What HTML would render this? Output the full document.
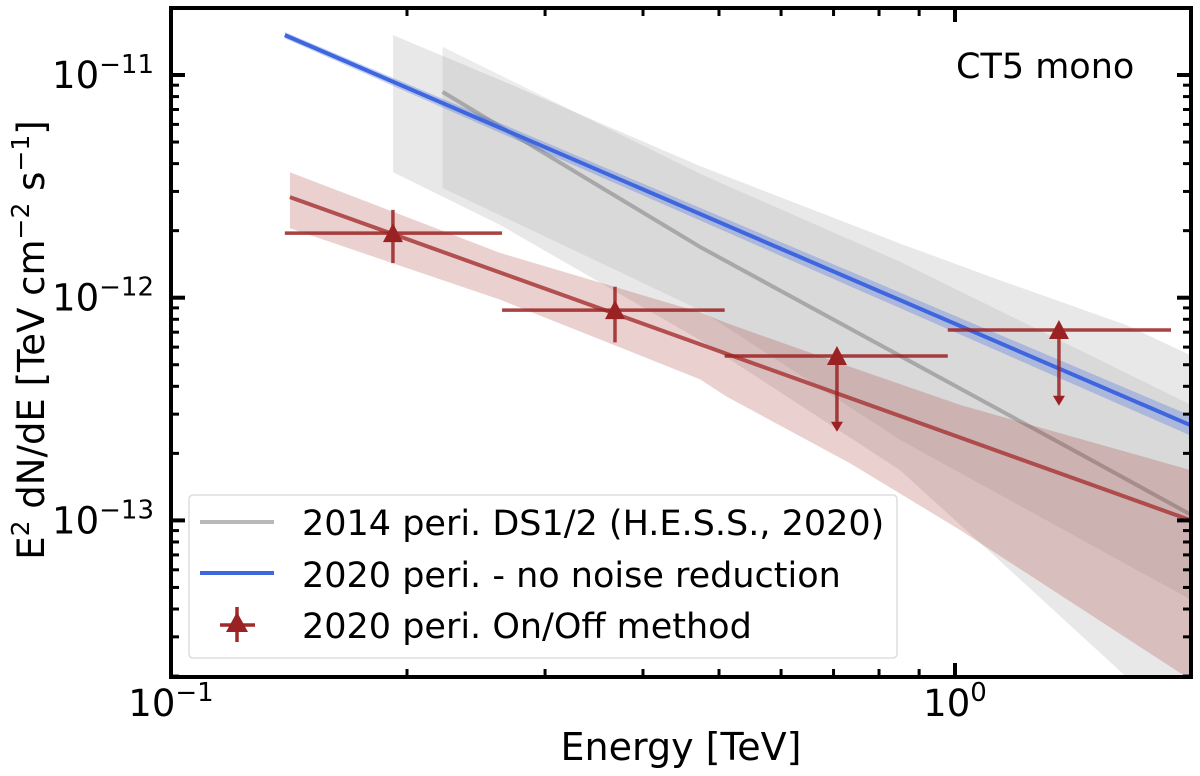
<!DOCTYPE html>
<html><head><meta charset="utf-8">
<style>
html,body{margin:0;padding:0;background:#fff;}
svg{display:block;font-family:"DejaVu Sans","Liberation Sans",sans-serif;}
</style></head>
<body>
<svg id="chart" width="1200" height="776" viewBox="0 0 1200 776" xmlns="http://www.w3.org/2000/svg">
  <defs><clipPath id="clip"><rect x="171" y="8" width="1020" height="669"/></clipPath></defs>
  <g id="plot" clip-path="url(#clip)"></g>
  <g id="axes"></g>
  <text x="956" y="78" font-size="35" fill="#000">CT5 mono</text>
  <text x="681" y="760" font-size="38" text-anchor="middle" fill="#000">Energy [TeV]</text>
  <text transform="translate(44,340) rotate(-90)" font-size="37" text-anchor="middle" fill="#000">E<tspan font-size="25" dy="-15">2</tspan><tspan dy="15"> dN/dE [TeV cm</tspan><tspan font-size="25" dy="-15">−2</tspan><tspan dy="15"> s</tspan><tspan font-size="25" dy="-15">−1</tspan><tspan dy="15">]</tspan></text>
  <g id="legend">
    <rect x="189" y="495" width="708" height="163" rx="4" fill="#fff" fill-opacity="0.85" stroke="#ddd" stroke-width="1.5"/>
    <line x1="200" y1="522" x2="274" y2="522" stroke="#b8b8b8" stroke-width="4"/>
    <text x="302" y="535" font-size="35">2014 peri. DS1/2 (H.E.S.S., 2020)</text>
    <line x1="200" y1="573" x2="274" y2="573" stroke="#3e66df" stroke-width="4"/>
    <text x="302" y="587" font-size="35">2020 peri. - no noise reduction</text>
    <g stroke="#a02a2a" stroke-width="3.5">
      <line x1="220" y1="625" x2="255" y2="625"/><line x1="237" y1="607" x2="237" y2="642"/>
    </g>
    <polygon points="237,612 248,632 226,632" fill="#9a2222"/>
    <text x="302" y="638" font-size="35">2020 peri. On/Off method</text>
  </g>
</svg>
<script>
// ---- data ----
const grayLightE = [0.192, 0.263, 0.473, 0.851, 1.14, 1.66, 2.0];
const grayLightUp = [1.51e-11, 9.5e-12, 3.9e-12, 1.75e-12, 1.2e-12, 7.5e-13, 5.5e-13];
const grayLightLo = [3.66e-12, 2.12e-12, 6.45e-13, 1.68e-13, 6.6e-14, 1.96e-14, 1.2e-14];
const grayDarkE = [0.222, 0.473, 0.851, 2.0];
const grayDarkUp = [1.34e-11, 3.6e-12, 1.45e-12, 3.3e-13];
const grayDarkLo = [3.11e-12, 8.8e-13, 2.3e-13, 4.4e-14];
const grayLineE = [0.222, 0.473, 1.44, 2.0];
const grayLineF = [8.4e-12, 1.69e-12, 2.0e-13, 1.06e-13];
const redBandE = [0.1418, 0.2628, 0.473, 0.511, 0.7355, 1.015, 2.0];
const redBandUp = [3.66e-12, 1.59e-12, 8.6e-13, 7.7e-13, 4.89e-13, 3.3e-13, 1.68e-13];
const redBandLo = [2.05e-12, 9.8e-13, 4.3e-13, 3.6e-13, 1.8e-13, 9.06e-14, 1.92e-14];
const redLineE = [0.1418, 2.0];
const redLineF = [2.83e-12, 1.0e-13];
const blueLineE = [0.1397, 2.0];
const blueLineF = [1.51e-11, 2.67e-13];
const blueBandUp = [1.56e-11, 2.95e-13];
const blueBandLo = [1.46e-11, 2.4e-13];
const ptE = [0.1919, 0.3684, 0.707, 1.357];
const ptF = [1.95e-12, 8.8e-13, 5.47e-13, 7.16e-13];
const ptElo = [0.1397, 0.2644, 0.5084, 0.979];
const ptEhi = [0.2644, 0.5084, 0.979, 1.886];
const ptFlo = [1.43e-12, 6.3e-13, null, null];
const ptFhi = [2.48e-12, 1.12e-12, null, null];
const ptUL = [false, false, true, true];
const xTickLabels = ["10", "10"];
const xTickExp = ["−1", "0"];
const yTickLabels = ["10", "10", "10"];
const yTickExp = ["−11", "−12", "−13"];

// ---- axes ----
const X0 = 171, XPD = 784, Y0 = 75, YPD = 222.7;
function sx(e){ return X0 + (Math.log10(e) + 1) * XPD; }
function sy(f){ return Y0 + (-11 - Math.log10(f)) * YPD; }
const NS = "http://www.w3.org/2000/svg";
const plot = document.getElementById('plot');
const axes = document.getElementById('axes');
function mk(tag, attrs, parent){ const el = document.createElementNS(NS, tag); for (const k in attrs) el.setAttribute(k, attrs[k]); parent.appendChild(el); return el; }
function bandPts(E, up, lo){ const a = E.map((e,i)=>sx(e)+','+sy(up[i])); const b = E.map((e,i)=>sx(e)+','+sy(lo[i])).reverse(); return a.concat(b).join(' '); }
function linePts(E, F){ return E.map((e,i)=>sx(e)+','+sy(F[i])).join(' '); }

let el;
el = mk('polygon', {points: bandPts(grayLightE, grayLightUp, grayLightLo), fill:'#a0a0a0', 'fill-opacity':0.24}, plot);


el = mk('polygon', {points: bandPts(grayDarkE, grayDarkUp, grayDarkLo), fill:'#a0a0a0', 'fill-opacity':0.2}, plot);


el = mk('polyline', {points: linePts(grayLineE, grayLineF), fill:'none', stroke:'#808080', 'stroke-opacity':0.55, 'stroke-width':4}, plot);


el = mk('polygon', {points: bandPts(redBandE, redBandUp, redBandLo), fill:'#a52a2a', 'fill-opacity':0.22}, plot);


el = mk('polyline', {points: linePts(redLineE, redLineF), fill:'none', stroke:'#a83a3a', 'stroke-opacity':0.85, 'stroke-width':4}, plot);


el = mk('polygon', {points: bandPts(blueLineE, blueBandUp, blueBandLo), fill:'#4169e1', 'fill-opacity':0.3}, plot);


el = mk('polyline', {points: linePts(blueLineE, blueLineF), fill:'none', stroke:'#3e66df', 'stroke-width':4}, plot);



const pc = '#9a2222';
ptE.forEach((e,i)=>{
  const g = mk('g', {stroke: pc, 'stroke-opacity':0.85, 'stroke-width':3.5, fill: pc}, plot);
  
  
  const cx = sx(e), cy = sy(ptF[i]);
  mk('line', {x1: sx(ptElo[i]), y1: cy, x2: sx(ptEhi[i]), y2: cy}, g);
  if (ptUL[i]) {
    const yb = sy(ptF[i] * Math.pow(10, -0.34));
    mk('line', {x1: cx, y1: cy, x2: cx, y2: yb - 4}, g);
    mk('polygon', {points: (cx-6)+','+(yb-10)+' '+(cx+6)+','+(yb-10)+' '+cx+','+yb, stroke:'none'}, g);
  } else {
    mk('line', {x1: cx, y1: sy(ptFhi[i]), x2: cx, y2: sy(ptFlo[i])}, g);
  }
  mk('polygon', {points: cx+','+(cy-10)+' '+(cx+10)+','+(cy+9)+' '+(cx-10)+','+(cy+9), stroke:'none'}, g);
});

// frame and ticks
const L = 171, R = 1191, T = 8, B = 677;
el = mk('rect', {x:L, y:T, width:R-L, height:B-T, fill:'none', stroke:'#000', 'stroke-width':4}, axes);


for (let d=-1; d<=0; d++) for (let m=1; m<=9; m++) {
  const x = sx(m*Math.pow(10,d));
  if (x < L-1 || x > R+1) continue;
  const len = m===1 ? 14 : 8, w = m===1 ? 4 : 3;
  mk('line', {x1:x, y1:B, x2:x, y2:B-len, stroke:'#000', 'stroke-width':w}, axes);
  mk('line', {x1:x, y1:T, x2:x, y2:T+len, stroke:'#000', 'stroke-width':w}, axes);
}
for (let d=-14; d<=-11; d++) for (let m=1; m<=9; m++) {
  const y = sy(m*Math.pow(10,d));
  if (y < T-1 || y > B+1) continue;
  const len = m===1 ? 14 : 8, w = m===1 ? 4 : 3;
  mk('line', {x1:L, y1:y, x2:L+len, y2:y, stroke:'#000', 'stroke-width':w}, axes);
  mk('line', {x1:R, y1:y, x2:R-len, y2:y, stroke:'#000', 'stroke-width':w}, axes);
}
[0.1, 1].forEach((e,i)=>{
  const t = mk('text', {x: sx(e), y: 716, 'font-size':37, 'text-anchor':'middle'}, axes);
  
  
  t.innerHTML = xTickLabels[i] + '<tspan font-size="26" dy="-15">' + xTickExp[i] + '</tspan>';
});
[1e-11, 1e-12, 1e-13].forEach((f,i)=>{
  const t = mk('text', {x: 154, y: sy(f)+13, 'font-size':37, 'text-anchor':'end'}, axes);
  
  
  t.innerHTML = yTickLabels[i] + '<tspan font-size="26" dy="-15">' + yTickExp[i] + '</tspan>';
});
</script>
</body></html>
